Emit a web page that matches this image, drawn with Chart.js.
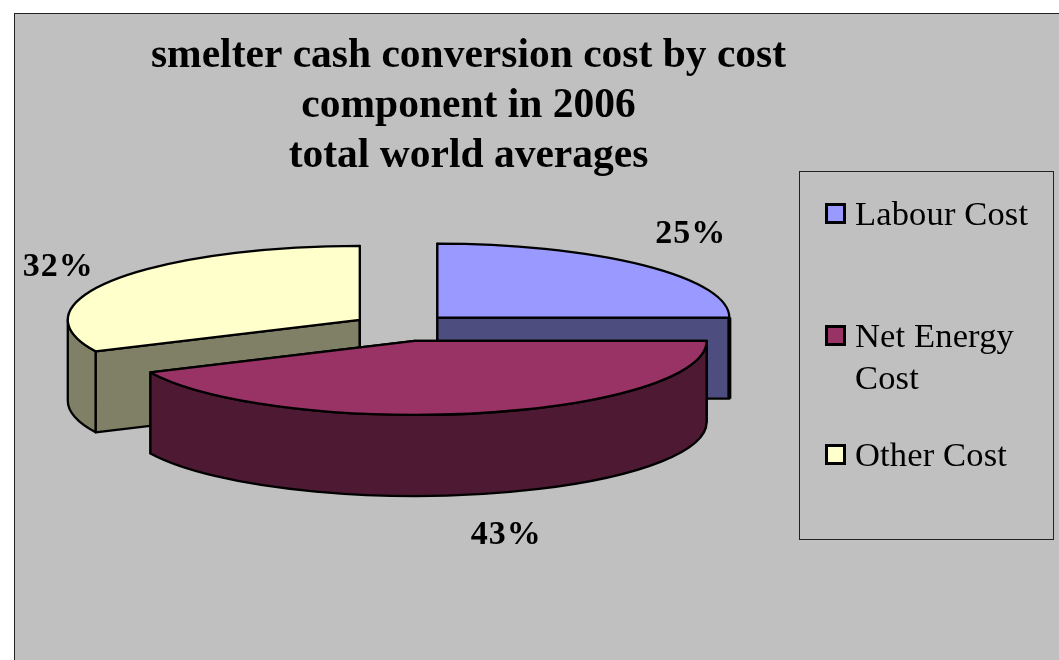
<!DOCTYPE html>
<html lang="en">
<head>
  <meta charset="UTF-8">
  <title>smelter cash conversion cost</title>
  <script src="https://cdn.jsdelivr.net/npm/chart.js"></script>
  <style>
    html, body { margin: 0; background: #fff; overflow: hidden; }
    #frame { position: absolute; left: 14px; top: 13px; right: -2px; bottom: -2px; background: #c0c0c0; border: 1px solid #222; box-sizing: border-box; }
    #pie { position: absolute; left: 0; top: 0; }
    #legend { position: absolute; left: 799px; top: 171px; width: 255px; height: 369px; box-sizing: border-box; border: 1px solid #222; font: 34.5px/42px "Liberation Serif", serif; letter-spacing: 0.15px; color: #000; }
    .item { position: absolute; left: 55px; }
    .swatch { position: absolute; left: -30px; top: 11px; width: 21px; height: 21px; box-sizing: border-box; border: 3px solid #000; }
  </style>
</head>
<body>
<div id="frame"></div>
<canvas id="pie" width="1059" height="660"></canvas>
<div id="legend"></div>

<script>
const titleLines = ['smelter cash conversion cost by cost', 'component in 2006', 'total world averages'];
const categories = ['Labour Cost', 'Net Energy Cost', 'Other Cost'];
const legendLines = [['Labour Cost'], ['Net Energy', 'Cost'], ['Other Cost']];
const shares = [25, 43, 32];
const topColors = ['#9999ff', '#993366', '#ffffcc'];
const wallColors = ['#4d4d80', '#4d1933', '#808066'];

// fake 3D: the pie is squashed and every slice gets a wall under it
const squash = 0.2534;
const depth = 81;
const pieRadius = 292;
const pivot = { x: 402, y: 326.6 };
const explode = [50, 58, 50];
const labelNudge = [[47, -31], [28, 122], [-55, -13]];
const legendTops = [20, 142, 261];

function topCentre(el) {
  return { x: el.x, y: pivot.y + (el.y - pivot.y) * squash };
}

function rimPoint(el, angle) {
  const c = topCentre(el);
  return {
    x: c.x + Math.cos(angle) * el.outerRadius,
    y: c.y + Math.sin(angle) * el.outerRadius * squash
  };
}

function drawWall(ctx, el, color) {
  const c = topCentre(el);
  const rx = el.outerRadius, ry = rx * squash;
  ctx.fillStyle = color;
  [el.startAngle, el.endAngle].forEach(a => {
    const p = rimPoint(el, a);
    ctx.beginPath();
    ctx.moveTo(c.x, c.y);
    ctx.lineTo(p.x, p.y);
    ctx.lineTo(p.x, p.y + depth);
    ctx.lineTo(c.x, c.y + depth);
    ctx.closePath();
    ctx.fill();
    ctx.stroke();
  });
  // outer wall only shows on the front half
  const lo = Math.max(el.startAngle, 0), hi = Math.min(el.endAngle, Math.PI);
  if (hi > lo) {
    ctx.beginPath();
    ctx.ellipse(c.x, c.y, rx, ry, 0, lo, hi);
    ctx.ellipse(c.x, c.y + depth, rx, ry, 0, hi, lo, true);
    ctx.closePath();
    ctx.fill();
    ctx.stroke();
  } else {
    // rim seen edge-on, reads as a heavier line
    const p = rimPoint(el, el.endAngle);
    ctx.save();
    ctx.lineWidth = 4;
    ctx.beginPath();
    ctx.moveTo(p.x, p.y);
    ctx.lineTo(p.x, p.y + depth);
    ctx.stroke();
    ctx.restore();
  }
}

const pie3d = {
  id: 'pie3d',
  afterDatasetsUpdate(chart) {
    chart.getDatasetMeta(0).data.forEach((el, i) => {
      const mid = (el.startAngle + el.endAngle) / 2;
      el.x = pivot.x + Math.cos(mid) * explode[i];
      el.y = pivot.y + Math.sin(mid) * explode[i];
    });
  },
  beforeDatasetsDraw(chart) {
    const ctx = chart.ctx;
    const arcs = chart.getDatasetMeta(0).data;
    ctx.save();
    ctx.strokeStyle = '#000';
    ctx.lineWidth = 2.3;
    ctx.lineJoin = 'round';
    // back slices first
    arcs.map((el, i) => i)
      .sort((a, b) => topCentre(arcs[a]).y - topCentre(arcs[b]).y)
      .forEach(i => drawWall(ctx, arcs[i], wallColors[i]));
    ctx.restore();
    ctx.save();
    ctx.translate(0, pivot.y);
    ctx.scale(1, squash);
    ctx.translate(0, -pivot.y);
  },
  afterDatasetsDraw(chart) {
    const ctx = chart.ctx;
    ctx.restore();
    ctx.save();
    ctx.strokeStyle = '#000';
    ctx.lineWidth = 2.3;
    ctx.lineJoin = 'round';
    chart.getDatasetMeta(0).data.forEach((el, i) => {
      const c = topCentre(el);
      ctx.beginPath();
      ctx.moveTo(c.x, c.y);
      ctx.ellipse(c.x, c.y, el.outerRadius, el.outerRadius * squash, 0, el.startAngle, el.endAngle);
      ctx.closePath();
      ctx.stroke();

      const p = rimPoint(el, (el.startAngle + el.endAngle) / 2);
      ctx.fillStyle = '#000';
      ctx.font = 'bold 34px "Liberation Serif", serif';
      ctx.letterSpacing = '1px';
      ctx.textAlign = 'center';
      ctx.textBaseline = 'middle';
      ctx.fillText(shares[i] + '%', p.x + labelNudge[i][0], p.y + labelNudge[i][1]);
    });
    ctx.restore();
  }
};

new Chart(document.getElementById('pie'), {
  type: 'pie',
  data: {
    labels: categories,
    datasets: [{
      data: shares,
      backgroundColor: topColors,
      borderWidth: 0,
      radius: pieRadius
    }]
  },
  options: {
    responsive: false,
    animation: false,
    events: [],
    layout: { padding: { right: 122 } },
    plugins: {
      legend: { display: false },
      tooltip: { enabled: false },
      title: {
        display: true,
        text: titleLines,
        color: '#000',
        font: { family: '"Liberation Serif", serif', size: 41.5, weight: 'bold', lineHeight: 1.205 },
        padding: { top: 31, bottom: 0 }
      }
    }
  },
  plugins: [pie3d]
});

// legend box
const legend = document.getElementById('legend');
categories.forEach((name, i) => {
  const item = document.createElement('div');
  item.className = 'item';
  item.style.top = legendTops[i] + 'px';
  item.innerHTML = legendLines[i].join('<br>');
  const swatch = document.createElement('div');
  swatch.className = 'swatch';
  swatch.style.background = topColors[i];
  item.appendChild(swatch);
  legend.appendChild(item);
});
</script>
</body>
</html>
